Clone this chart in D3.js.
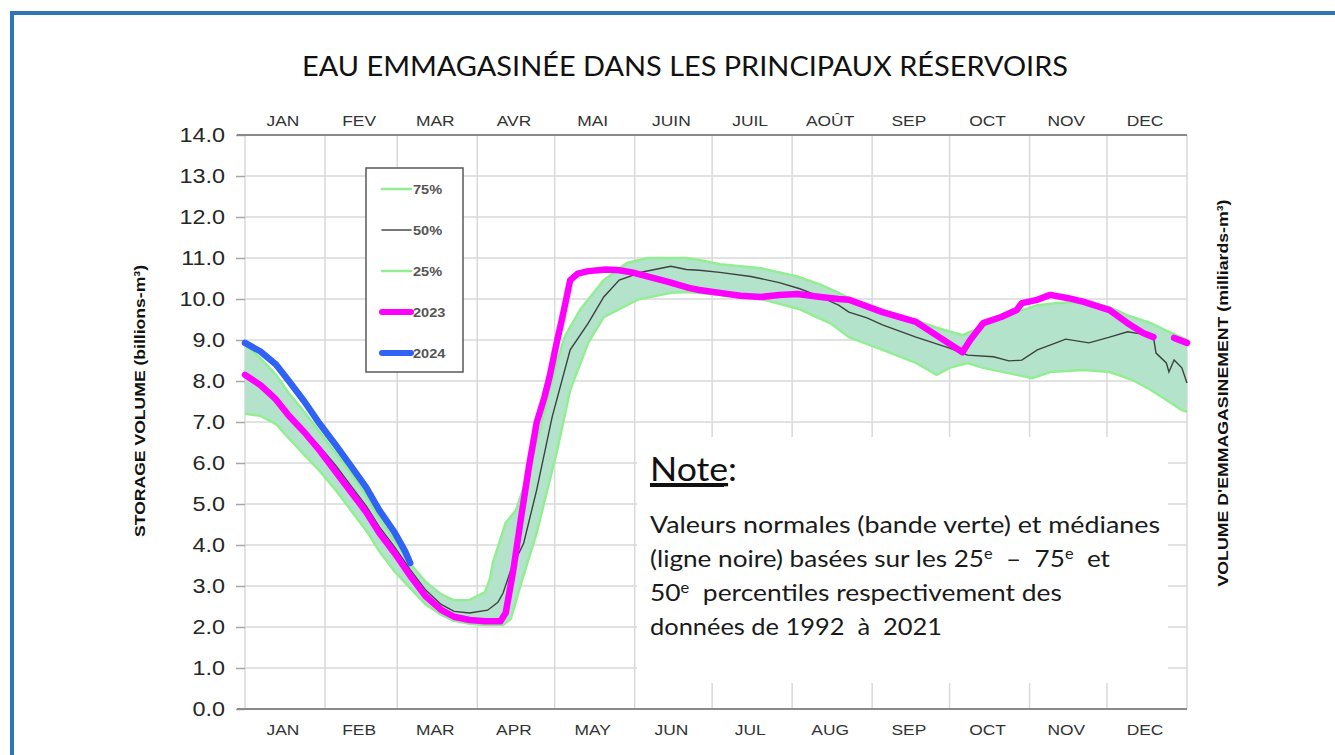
<!DOCTYPE html>
<html><head><meta charset="utf-8">
<script src="https://cdn.jsdelivr.net/npm/d3@7"></script>
<style>body{margin:0;background:#fff}svg{display:block}</style>
</head><body>
<svg id="c" width="1335" height="755"></svg>
<script>
// ---------- DATA ----------
const topMonths = ["JAN","FEV","MAR","AVR","MAI","JUIN","JUIL","AOÛT","SEP","OCT","NOV","DEC"];
const bottomMonths = ["JAN","FEB","MAR","APR","MAY","JUN","JUL","AUG","SEP","OCT","NOV","DEC"];
const monthStarts = [0,31,59,90,120,151,181,212,243,273,304,334,365];
const yTicks = [0,1,2,3,4,5,6,7,8,9,10,11,12,13,14];
const legendLabels = ["75%","50%","25%","2023","2024"];
const p75 = [[0,8.9],[6,8.55],[12,8.15],[17,7.7],[23,7.25],[29,6.75],[35,6.25],[41,5.75],[47,5.2],[52,4.65],[58,4.1],[64,3.55],[70,3.1],[76,2.8],[81,2.65],[87,2.66],[93,2.85],[95,3.2],[96,3.56],[101,4.54],[105,4.85],[109,5.6],[113,6.5],[117,7.5],[121,8.5],[124,9.1],[130,9.75],[139,10.46],[148,10.88],[156,11.0],[171,11.0],[176,10.95],[184,10.85],[200,10.75],[214,10.55],[223,10.35],[230,10.15],[234,10.02],[247,9.72],[260,9.47],[269,9.28],[278,9.12],[285,9.3],[292,9.5],[299,9.68],[307,9.85],[315,9.9],[325,9.93],[335,9.8],[342,9.6],[351,9.41],[358,9.2],[365,9.0]];
const p25 = [[0,7.2],[6,7.15],[12,6.95],[17,6.6],[23,6.2],[29,5.8],[35,5.35],[41,4.85],[47,4.35],[52,3.85],[58,3.35],[64,2.95],[70,2.55],[76,2.3],[81,2.15],[87,2.08],[93,2.05],[100,2.05],[103,2.2],[107,3.07],[113,4.29],[121,6.32],[126,7.78],[133,8.93],[139,9.56],[152,9.98],[165,10.15],[172,10.17],[184,10.1],[200,10.0],[215,9.75],[227,9.4],[234,9.07],[247,8.76],[260,8.44],[268,8.15],[273,8.32],[280,8.44],[286,8.32],[299,8.15],[305,8.07],[312,8.22],[325,8.27],[335,8.22],[344,8.02],[351,7.78],[357,7.54],[363,7.29],[365,7.25]];
const p50 = [[0,8.2],[6,7.95],[12,7.6],[17,7.2],[23,6.8],[29,6.4],[35,5.95],[41,5.45],[47,4.95],[52,4.45],[58,3.95],[64,3.4],[70,2.9],[76,2.55],[81,2.38],[87,2.34],[94,2.41],[98,2.6],[100,2.83],[103,3.39],[108,4.05],[113,5.34],[119,7.12],[126,8.76],[133,9.41],[139,10.05],[145,10.46],[154,10.66],[165,10.8],[171,10.72],[176,10.7],[184,10.65],[196,10.55],[207,10.4],[215,10.25],[223,10.05],[230,9.85],[234,9.68],[241,9.54],[247,9.37],[260,9.07],[273,8.8],[280,8.63],[290,8.59],[296,8.49],[301,8.51],[307,8.76],[315,8.95],[318,9.02],[327,8.93],[335,9.07],[342,9.2],[347,9.15],[352,9.07],[353,8.68],[357,8.44],[358,8.22],[360,8.51],[363,8.32],[365,7.95]];
const y2023 = [[0,8.15],[6,7.9],[12,7.55],[17,7.15],[23,6.75],[29,6.3],[35,5.8],[41,5.3],[47,4.8],[52,4.3],[58,3.8],[64,3.25],[70,2.75],[76,2.42],[81,2.25],[87,2.17],[93,2.14],[99,2.14],[101,2.34],[104,3.4],[107,4.68],[110,5.9],[113,6.98],[116,7.6],[118,8.1],[121,9.0],[123,9.56],[126,10.46],[129,10.62],[133,10.68],[140,10.72],[145,10.7],[150,10.65],[154,10.58],[164,10.42],[172,10.27],[176,10.22],[184,10.15],[192,10.08],[200,10.05],[207,10.1],[214,10.12],[223,10.05],[230,10.0],[234,9.98],[247,9.68],[260,9.44],[269,9.07],[278,8.7],[281,9.0],[286,9.41],[293,9.56],[299,9.73],[301,9.9],[307,9.98],[312,10.1],[319,10.02],[325,9.93],[335,9.73],[342,9.41],[348,9.17],[352,9.07],[353,null],[359,null],[360,9.05],[365,8.93]];
const y2024 = [[0,8.93],[6,8.72],[12,8.4],[17,8.0],[23,7.5],[29,6.95],[35,6.45],[41,5.93],[47,5.4],[52,4.85],[58,4.3],[62,3.85],[64,3.56]];

const titleText = "EAU EMMAGASINÉE DANS LES PRINCIPAUX RÉSERVOIRS";
const leftTitle = "STORAGE VOLUME (billions-m³)";
const rightTitle = "VOLUME D'EMMAGASINEMENT (milliards-m³)";

// ---------- LAYOUT ----------
const svg = d3.select("#c");
const L = 245, R = 1187, T = 135, B = 709;
const x = d3.scaleLinear().domain([0,365]).range([L,R]);
const y = d3.scaleLinear().domain([0,14]).range([B,T]);
const SX = 1.2;

// outer blue frame
svg.append("rect").attr("x",12).attr("y",13).attr("width",1400).attr("height",800)
  .attr("fill","none").attr("stroke","#2e75b6").attr("stroke-width",4);

// title
svg.append("text").attr("x",685).attr("y",76).attr("text-anchor","middle")
  .attr("font-family","Lato, 'Open Sans', sans-serif").attr("font-size",26).attr("fill","#111")
  .attr("textLength",766).attr("lengthAdjust","spacingAndGlyphs").text(titleText);

// gridlines
const grid = svg.append("g");
grid.selectAll("line.h").data(yTicks).join("line")
  .attr("x1",L).attr("x2",R).attr("y1",d=>y(d)).attr("y2",d=>y(d))
  .attr("stroke","#d9d9d9").attr("stroke-width",1.5);
grid.selectAll("line.v").data(monthStarts).join("line")
  .attr("x1",d=>x(d)).attr("x2",d=>x(d)).attr("y1",T).attr("y2",B)
  .attr("stroke","#d9d9d9").attr("stroke-width",1.5);

// y axis ticks + labels
const yAxis = d3.axisLeft(y).tickValues(yTicks).tickSize(9).tickFormat(d3.format(".1f"));
const ga = svg.append("g").attr("transform",`translate(${L},0)`).call(yAxis);
ga.select(".domain").remove();
ga.selectAll(".tick line").attr("stroke","#a6a6a6").attr("stroke-width",1.5);
ga.selectAll(".tick text").attr("x",0).attr("dy","0.34em")
  .attr("transform",`translate(-20,0) scale(${SX},1)`)
  .attr("font-family","'Liberation Sans', Arial, sans-serif").attr("font-size",19.5).attr("fill","#262626");

// top & bottom axis lines
svg.append("line").attr("x1",237).attr("x2",R).attr("y1",T).attr("y2",T).attr("stroke","#8a8a8a").attr("stroke-width",2);
svg.append("line").attr("x1",237).attr("x2",R).attr("y1",B).attr("y2",B).attr("stroke","#8a8a8a").attr("stroke-width",2);

// month labels
const mid = i => (monthStarts[i]+monthStarts[i+1])/2;
function monthRow(labels, yy){
  svg.append("g").selectAll("text").data(labels).join("text")
    .attr("transform",(d,i)=>`translate(${x(mid(i))-2},${yy}) scale(${SX},1)`)
    .attr("text-anchor","middle").attr("font-family","'Liberation Sans', Arial, sans-serif")
    .attr("font-size",14.5).attr("fill","#333").text(d=>d);
}
monthRow(topMonths,126);
monthRow(bottomMonths,735);

// axis titles
svg.append("text").attr("transform","translate(145,401) rotate(-90)").attr("text-anchor","middle")
  .attr("font-family","'Liberation Sans', Arial, sans-serif").attr("font-weight","bold").attr("font-size",15.5)
  .attr("fill","#111").attr("textLength",272).attr("lengthAdjust","spacingAndGlyphs").text(leftTitle);
svg.append("text").attr("transform","translate(1228,393) rotate(-90)").attr("text-anchor","middle")
  .attr("font-family","'Liberation Sans', Arial, sans-serif").attr("font-weight","bold").attr("font-size",15.5)
  .attr("fill","#111").attr("textLength",387).attr("lengthAdjust","spacingAndGlyphs").text(rightTitle);

// Note box
svg.append("rect").attr("x",637).attr("y",437).attr("width",531).attr("height",246).attr("fill","#fff");
const nf = "Lato, 'Open Sans', sans-serif";
svg.append("text").attr("x",650).attr("y",481).attr("font-family",nf).attr("font-size",33).attr("fill","#111")
  .attr("textLength",87).attr("lengthAdjust","spacingAndGlyphs")
  .html('<tspan text-decoration="underline">Note</tspan>:');
svg.append("line").attr("x1",650).attr("x2",724).attr("y1",486).attr("y2",486).attr("stroke","#111").attr("stroke-width",2);
const noteLines = [
  {y:533, w:510, html:'Valeurs normales (bande verte) et médianes'},
  {y:567, w:460, html:'(ligne noire) basées sur les 25<tspan dy="-8" font-size="15">e</tspan><tspan dy="8">  –  75</tspan><tspan dy="-8" font-size="15">e</tspan><tspan dy="8">  et</tspan>'},
  {y:601, w:412, html:'50<tspan dy="-8" font-size="15">e</tspan><tspan dy="8">  percentiles respectivement des</tspan>'},
  {y:635, w:292, html:'données de 1992  à  2021'}
];
svg.append("g").selectAll("text").data(noteLines).join("text")
  .attr("x",650).attr("y",d=>d.y).attr("font-family",nf).attr("font-size",24).attr("fill","#1a1a1a")
  .attr("xml:space","preserve").style("white-space","pre")
  .attr("textLength",d=>d.w).attr("lengthAdjust","spacingAndGlyphs")
  .html(d=>d.html);

// Band
const line = d3.line().x(d=>x(d[0])).y(d=>y(d[1])).defined(d=>d[1]!=null);
const bandPts = p75.concat(p25.slice().reverse());
svg.append("path").attr("d", d3.line().x(d=>x(d[0])).y(d=>y(d[1]))(bandPts)+"Z")
  .attr("fill","#b3e4cb").attr("stroke","none");
svg.append("path").attr("d",line(p75)).attr("fill","none").attr("stroke","#93ee93").attr("stroke-width",2.5);
svg.append("path").attr("d",line(p25)).attr("fill","none").attr("stroke","#93ee93").attr("stroke-width",2.5);
svg.append("path").attr("d",line(p50)).attr("fill","none").attr("stroke","#3f3f3f").attr("stroke-width",1.4);
svg.append("path").attr("d",line(y2023)).attr("fill","none").attr("stroke","#ff00ff").attr("stroke-width",6.5)
  .attr("stroke-linecap","round").attr("stroke-linejoin","round");
svg.append("path").attr("d",line(y2024)).attr("fill","none").attr("stroke","#2f62f5").attr("stroke-width",6.5)
  .attr("stroke-linecap","round").attr("stroke-linejoin","round");

// Legend
const lg = svg.append("g");
lg.append("rect").attr("x",366).attr("y",168).attr("width",97).attr("height",204)
  .attr("fill","#fff").attr("stroke","#595959").attr("stroke-width",1.5);
const legendStyles = [
  {c:"#93ee93", w:2.5}, {c:"#4d4d4d", w:1.5}, {c:"#93ee93", w:2.5}, {c:"#ff00ff", w:6}, {c:"#2f62f5", w:6}
];
const legendY = d3.scalePoint().domain(legendLabels).range([189,353]);
lg.selectAll("line").data(legendLabels).join("line")
  .attr("x1",382).attr("x2",411).attr("y1",d=>legendY(d)).attr("y2",d=>legendY(d))
  .attr("stroke",(d,i)=>legendStyles[i].c).attr("stroke-width",(d,i)=>legendStyles[i].w).attr("stroke-linecap","round");
lg.selectAll("text").data(legendLabels).join("text")
  .attr("transform",d=>`translate(413,${legendY(d)+4.5}) scale(1.12,1)`)
  .attr("font-family","'Liberation Sans', Arial, sans-serif").attr("font-size",13).attr("font-weight","bold")
  .attr("fill","#555").text(d=>d);
</script>
</body></html>
